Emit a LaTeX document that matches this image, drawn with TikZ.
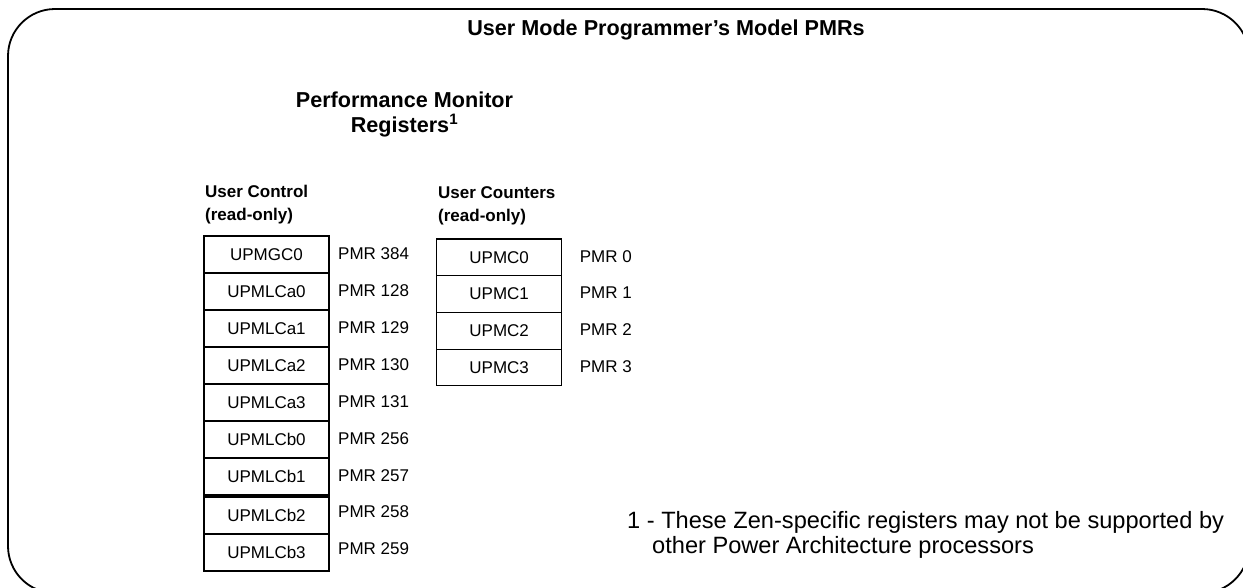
\documentclass[tikz,border=0pt]{standalone}
\usepackage{fontspec}
\setmainfont{Liberation Sans}
\usetikzlibrary{positioning}

\begin{document}
\begin{tikzpicture}[x=1pt, y=-1pt,
  frame/.style={line width=1.8pt, rounded corners=47pt},
  heading/.style={font=\fontsize{21.6}{25}\selectfont\bfseries, align=center, inner sep=0pt},
  group/.style={font=\fontsize{17}{23.5}\selectfont\bfseries, align=left, inner sep=0pt, anchor=base west},
  reg/.style={draw, line width=1.2pt, minimum width=125pt, minimum height=37pt, inner sep=0pt, outer sep=0pt, font=\fontsize{17}{20}\selectfont},
  pmr/.style={inner sep=0pt, yshift=1pt, font=\fontsize{17}{20}\selectfont},
  note/.style={font=\fontsize{23.6}{25}\selectfont, align=left, inner sep=0pt, anchor=base west},
  node distance=0pt]
\useasboundingbox (0,0) rectangle (1243,587);
\draw[frame] (8,9) rectangle (1249,593);
\node[heading, anchor=base] (title) at (666,35) {User Mode Programmer’s Model PMRs};
\node[heading, anchor=base] (pmhead) at (404.5,132) {Performance Monitor\\Registers\textsuperscript{1}};
% user control registers
\node[group] (ctrlhead) at (205,220.5) {User Control\\(read-only)};
\node[reg, anchor=north west] (c1) at (204,236) {UPMGC0};
\node[reg, below=of c1] (c2) {UPMLCa0};
\node[reg, below=of c2] (c3) {UPMLCa1};
\node[reg, below=of c3] (c4) {UPMLCa2};
\node[reg, below=of c4] (c5) {UPMLCa3};
\node[reg, below=of c5] (c6) {UPMLCb0};
\node[reg, below=of c6] (c7) {UPMLCb1};
\node[reg, below=2pt of c7] (c8) {UPMLCb2};
\node[reg, below=of c8] (c9) {UPMLCb3};
\node[pmr, right=9pt of c1] {PMR 384};
\node[pmr, right=9pt of c2] {PMR 128};
\node[pmr, right=9pt of c3] {PMR 129};
\node[pmr, right=9pt of c4] {PMR 130};
\node[pmr, right=9pt of c5] {PMR 131};
\node[pmr, right=9pt of c6] {PMR 256};
\node[pmr, right=9pt of c7] {PMR 257};
\node[pmr, right=9pt of c8, yshift=2.5pt] {PMR 258};
\node[pmr, right=9pt of c9, yshift=2.5pt] {PMR 259};
% user counters
\node[group] (cnthead) at (438,221.5) {User Counters\\(read-only)};
\node[reg, anchor=north west, minimum height=36.7pt] (u0) at (436.7,239) {UPMC0};
\node[reg, minimum height=36.7pt, below=of u0] (u1) {UPMC1};
\node[reg, minimum height=36.7pt, below=of u1] (u2) {UPMC2};
\node[reg, minimum height=36.7pt, below=of u2] (u3) {UPMC3};
\node[pmr, right=18pt of u0] {PMR 0};
\node[pmr, right=18pt of u1] {PMR 1};
\node[pmr, right=18pt of u2] {PMR 2};
\node[pmr, right=18pt of u3] {PMR 3};
% footnote
\node[note] (fn) at (627,553) {1 - These Zen-specific registers may not be supported by\\\hspace*{25pt}other Power Architecture processors};
\end{tikzpicture}
\end{document}
